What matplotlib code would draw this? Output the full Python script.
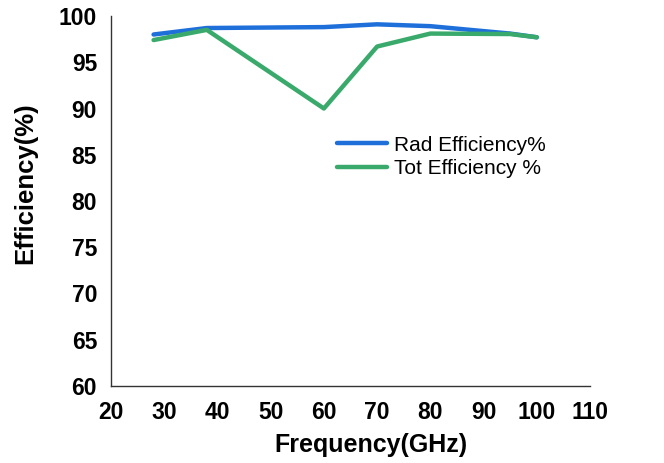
import matplotlib
matplotlib.use("Agg")
import matplotlib.pyplot as plt

freq = [28, 38, 60, 70, 80, 95, 100]
rad_eff = [98.0, 98.7, 98.8, 99.1, 98.9, 98.1, 97.7]
tot_eff = [97.4, 98.5, 90.0, 96.7, 98.1, 98.05, 97.7]
xticks = [20, 30, 40, 50, 60, 70, 80, 90, 100, 110]
yticks = [60, 65, 70, 75, 80, 85, 90, 95, 100]

plt.rcParams['font.family'] = ['Liberation Sans', 'DejaVu Sans']
fig = plt.figure(figsize=(6.64, 4.63), dpi=100)
ax = fig.add_axes([111/664, 1-386/463, (590-111)/664, (386-16)/463])

l1, = ax.plot(freq, rad_eff, color='#1f6fdb', lw=3.2, solid_capstyle='round', label='Rad Efficiency%')
l2, = ax.plot(freq, tot_eff, color='#3aaa6c', lw=3.2, solid_capstyle='round', label='Tot Efficiency %')

ax.set_xlim(20, 110)
ax.set_ylim(60, 100)
ax.set_xticks(xticks)
ax.set_yticks(yticks)
ax.tick_params(length=0, labelsize=16.5)
ax.tick_params(axis='y', pad=10)
ax.tick_params(axis='x', pad=11)
for lab in ax.get_xticklabels() + ax.get_yticklabels():
    lab.set_fontweight('bold')
for s in ['top', 'right']:
    ax.spines[s].set_visible(False)
for s in ['left', 'bottom']:
    ax.spines[s].set_color('#333333')
    ax.spines[s].set_linewidth(1.0)

ax.set_xlabel('Frequency(GHz)', fontsize=18, fontweight='bold')
ax.set_ylabel('Efficiency(%)', fontsize=18.5, fontweight='bold')
ax.xaxis.set_label_coords(0.543, -0.128)
ax.yaxis.set_label_coords(-0.155, 0.549)

leg = ax.legend(handles=[l1, l2], loc='upper left', bbox_to_anchor=(0.433, 0.727),
                frameon=False, fontsize=15, handlelength=2.4, handletextpad=0.35,
                labelspacing=0.2)

fig.savefig('out.png', dpi=100)
